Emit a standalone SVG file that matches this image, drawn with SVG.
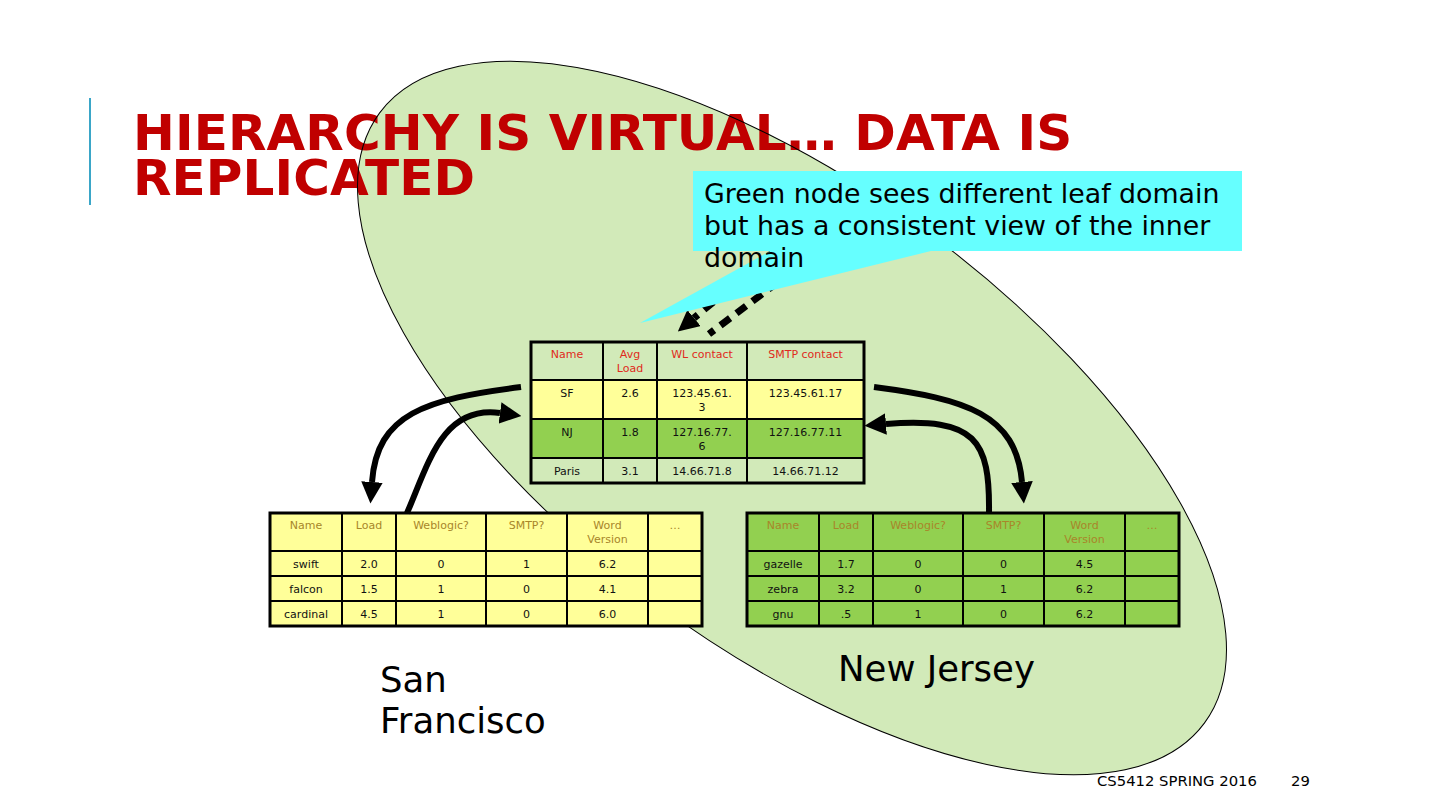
<svg xmlns="http://www.w3.org/2000/svg" width="1440" height="810" viewBox="0 0 1440 810">
<style>
.t{font-family:"DejaVu Sans","Liberation Sans",sans-serif;}
.cell{font-family:"DejaVu Sans","Liberation Sans",sans-serif;font-size:11px;text-anchor:middle;fill:#111;}
.hr{fill:#e02a20;}
.hy{fill:#a8862a;}
.grid{stroke:#000;stroke-width:2;fill:none;}
.outer{stroke:#000;stroke-width:3;fill:none;}
.arrow{stroke:#000;stroke-width:6;fill:none;marker-end:url(#ah);}
.dash{stroke:#000;stroke-width:7;fill:none;stroke-dasharray:12 8;}
</style>
<defs>
<marker id="ah" viewBox="0 0 10 10" refX="0" refY="5" markerWidth="3.6" markerHeight="3.6" orient="auto" markerUnits="strokeWidth">
<path d="M0,0 L10,5 L0,10 z" fill="#000"/>
</marker>
<marker id="ahd" viewBox="0 0 10 10" refX="0" refY="5" markerWidth="3" markerHeight="3" orient="auto" markerUnits="strokeWidth">
<path d="M0,0 L10,5 L0,10 z" fill="#000"/>
</marker>
</defs>
<rect width="1440" height="810" fill="#fff"/>

<g id="domain-ellipse-fill">
<ellipse cx="792" cy="418" rx="513" ry="230" transform="rotate(36.5 792 418)" fill="#d2eab9"/>
</g>

<g id="title">
<line x1="90" y1="98" x2="90" y2="205" stroke="#3aa6c8" stroke-width="2"/>
<text class="t" x="133" y="150" font-size="50" font-weight="bold" letter-spacing="0.1" fill="#c00000">HIERARCHY IS VIRTUAL… DATA IS</text>
<text class="t" x="133" y="195" font-size="50" font-weight="bold" letter-spacing="0.1" fill="#c00000">REPLICATED</text>
</g>

<g id="domain-ellipse-outline">
<ellipse cx="792" cy="418" rx="513" ry="230" transform="rotate(36.5 792 418)" fill="none" stroke="#000" stroke-width="1"/>
</g>

<g id="dashed-connectors">
<path class="dash" d="M775,251 L694,318" marker-end="url(#ahd)"/>
<path class="dash" d="M778,282 L709,334"/>
</g>

<g id="callout">
<rect x="693" y="171" width="549" height="80" fill="#66ffff"/>
<polygon points="640,323 772,250 935,250" fill="#66ffff"/>
<text class="t" font-size="26.8" fill="#000">
<tspan x="704" y="203">Green node sees different leaf domain</tspan>
<tspan x="704" y="235">but has a consistent view of the inner</tspan>
<tspan x="704" y="267">domain</tspan>
</text>
</g>

<g id="inner-table">
<rect x="531" y="342" width="333" height="38" fill="#d2eab9"/>
<rect x="531" y="380" width="333" height="39" fill="#ffff99"/>
<rect x="531" y="419" width="333" height="39" fill="#92d050"/>
<rect x="531" y="458" width="333" height="25" fill="#d2eab9"/>
<path class="grid" d="M603,342V483M657,342V483M747,342V483M531,380H864M531,419H864M531,458H864"/>
<rect class="outer" x="531" y="342" width="333" height="141"/>
<text class="cell hr" x="567" y="358">Name</text>
<text class="cell hr" x="630" y="358">Avg</text>
<text class="cell hr" x="630" y="372">Load</text>
<text class="cell hr" x="702" y="358">WL contact</text>
<text class="cell hr" x="805.5" y="358">SMTP contact</text>
<text class="cell" x="567" y="397">SF</text>
<text class="cell" x="630" y="397">2.6</text>
<text class="cell" x="702" y="397">123.45.61.</text>
<text class="cell" x="702" y="411">3</text>
<text class="cell" x="805.5" y="397">123.45.61.17</text>
<text class="cell" x="567" y="436">NJ</text>
<text class="cell" x="630" y="436">1.8</text>
<text class="cell" x="702" y="436">127.16.77.</text>
<text class="cell" x="702" y="450">6</text>
<text class="cell" x="805.5" y="436">127.16.77.11</text>
<text class="cell" x="567" y="475">Paris</text>
<text class="cell" x="630" y="475">3.1</text>
<text class="cell" x="702" y="475">14.66.71.8</text>
<text class="cell" x="805.5" y="475">14.66.71.12</text>
</g>

<g id="sf-table">
<rect x="270" y="513" width="432" height="113" fill="#ffff99"/>
<path class="grid" d="M342,513V626M396,513V626M486,513V626M567,513V626M648,513V626M270,551H702M270,576H702M270,601H702"/>
<rect class="outer" x="270" y="513" width="432" height="113"/>
<text class="cell hy" x="306" y="529">Name</text>
<text class="cell hy" x="369" y="529">Load</text>
<text class="cell hy" x="441" y="529">Weblogic?</text>
<text class="cell hy" x="526.5" y="529">SMTP?</text>
<text class="cell hy" x="607.5" y="529">Word</text>
<text class="cell hy" x="607.5" y="543">Version</text>
<text class="cell hy" x="675" y="529">…</text>
<text class="cell" x="306" y="568">swift</text>
<text class="cell" x="369" y="568">2.0</text>
<text class="cell" x="441" y="568">0</text>
<text class="cell" x="526.5" y="568">1</text>
<text class="cell" x="607.5" y="568">6.2</text>
<text class="cell" x="306" y="593">falcon</text>
<text class="cell" x="369" y="593">1.5</text>
<text class="cell" x="441" y="593">1</text>
<text class="cell" x="526.5" y="593">0</text>
<text class="cell" x="607.5" y="593">4.1</text>
<text class="cell" x="306" y="618">cardinal</text>
<text class="cell" x="369" y="618">4.5</text>
<text class="cell" x="441" y="618">1</text>
<text class="cell" x="526.5" y="618">0</text>
<text class="cell" x="607.5" y="618">6.0</text>
</g>

<g id="nj-table">
<rect x="747" y="513" width="432" height="113" fill="#92d050"/>
<path class="grid" d="M819,513V626M873,513V626M963,513V626M1044,513V626M1125,513V626M747,551H1179M747,576H1179M747,601H1179"/>
<rect class="outer" x="747" y="513" width="432" height="113"/>
<text class="cell hy" x="783" y="529">Name</text>
<text class="cell hy" x="846" y="529">Load</text>
<text class="cell hy" x="918" y="529">Weblogic?</text>
<text class="cell hy" x="1003.5" y="529">SMTP?</text>
<text class="cell hy" x="1084.5" y="529">Word</text>
<text class="cell hy" x="1084.5" y="543">Version</text>
<text class="cell hy" x="1152" y="529">…</text>
<text class="cell" x="783" y="568">gazelle</text>
<text class="cell" x="846" y="568">1.7</text>
<text class="cell" x="918" y="568">0</text>
<text class="cell" x="1003.5" y="568">0</text>
<text class="cell" x="1084.5" y="568">4.5</text>
<text class="cell" x="783" y="593">zebra</text>
<text class="cell" x="846" y="593">3.2</text>
<text class="cell" x="918" y="593">0</text>
<text class="cell" x="1003.5" y="593">1</text>
<text class="cell" x="1084.5" y="593">6.2</text>
<text class="cell" x="783" y="618">gnu</text>
<text class="cell" x="846" y="618">.5</text>
<text class="cell" x="918" y="618">1</text>
<text class="cell" x="1003.5" y="618">0</text>
<text class="cell" x="1084.5" y="618">6.2</text>
</g>

<g id="connectors">
<path class="arrow" d="M521,387 C425,399 377,414 372,482"/>
<path class="arrow" d="M407,513 C428,465 442,405 500,413"/>
<path class="arrow" d="M874,387 C966,399 1016,414 1022,482"/>
<path class="arrow" d="M989,513 C990,440 976,417 886,424"/>
</g>

<g id="labels">
<text class="t" font-size="35.5" fill="#000"><tspan x="380" y="692">San</tspan><tspan x="380" y="733">Francisco</tspan></text>
<text class="t" x="838" y="681" font-size="35.5" fill="#000">New Jersey</text>
</g>

<g id="footer">
<text class="t" x="1097" y="786" font-size="14.8" fill="#000">CS5412 SPRING 2016</text>
<text class="t" x="1291" y="786" font-size="14.8" fill="#000">29</text>
</g>
</svg>
